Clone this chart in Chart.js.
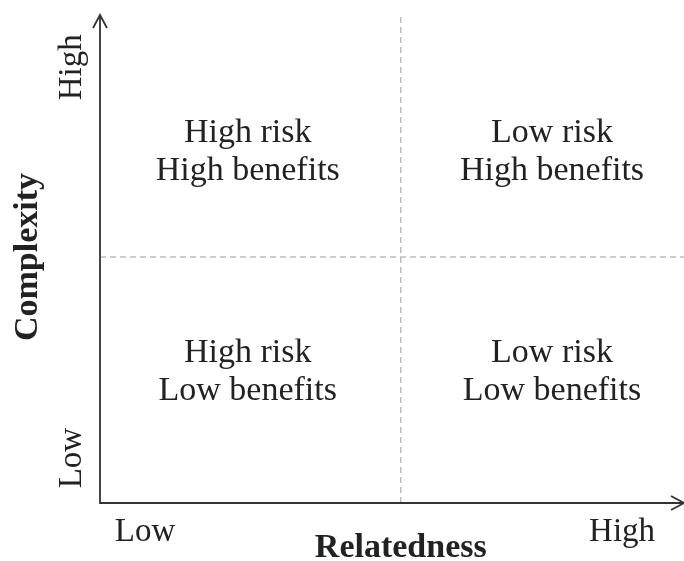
<!DOCTYPE html>
<html>
<head>
<meta charset="utf-8">
<script src="https://cdn.jsdelivr.net/npm/chart.js@4/dist/chart.umd.min.js"></script>
<style>
  html, body { margin: 0; padding: 0; background: #fff; overflow: hidden; }
</style>
</head>
<body>
<canvas id="matrix" width="684" height="561"></canvas>
<script>
// axis extent (both axes run 0..100) and where the quadrants split
const axisRange = [0, 100];
const xSplit = 51.5;
const ySplit = 50.4;

// tick words along each axis and where they sit
const xTickLabels = ['Low', 'High'];
const xTickPos = [7.7, 89.4];
const yTickLabels = ['Low', 'High'];
const yTickPos = [9.2, 89.3];

const xTitle = 'Relatedness';
const yTitle = 'Complexity';

// quadrant captions, row by row (top row first)
const quadLines = [
    ['High risk', 'High benefits'],
    ['Low risk', 'High benefits'],
    ['High risk', 'Low benefits'],
    ['Low risk', 'Low benefits']
];
const quadX = [25.3, 77.4, 25.3, 77.4];
const quadY = [72.0, 72.0, 26.8, 26.8];

const serif = "'Liberation Serif', 'Times New Roman', serif";
const ink = '#222';

let quadrantText = {
    id: 'quadrantText',
    afterDatasetsDraw(chart){
        //draws arrows, tick words, titles and quadrant captions
        let ctx = chart.ctx;
        let xs = chart.scales.x, ys = chart.scales.y;
        let x0 = xs.getPixelForValue(axisRange[0]);
        let y0 = ys.getPixelForValue(axisRange[0]);
        let yTop = ys.getPixelForValue(axisRange[1]);
        let xEnd = xs.getPixelForValue(axisRange[1]);
        ctx.save();

        // arrow heads
        ctx.strokeStyle = '#333';
        ctx.lineWidth = 1.8;
        ctx.beginPath();
        ctx.moveTo(x0 - 7, yTop + 13);
        ctx.lineTo(x0, yTop);
        ctx.lineTo(x0 + 7, yTop + 13);
        ctx.moveTo(xEnd - 13, y0 - 7);
        ctx.lineTo(xEnd, y0);
        ctx.lineTo(xEnd - 13, y0 + 7);
        ctx.stroke();

        ctx.fillStyle = ink;
        ctx.textAlign = 'center';
        ctx.textBaseline = 'middle';

        // quadrant captions
        ctx.font = `34px ${serif}`;
        quadLines.forEach((lines, i) => {
            let cx = xs.getPixelForValue(quadX[i]);
            let cy = ys.getPixelForValue(quadY[i]);
            lines.forEach((txt, j) => {
                ctx.fillText(txt, cx, cy + (j - (lines.length - 1) / 2) * 38);
            });
        });

        // x tick words
        ctx.font = `33px ${serif}`;
        xTickLabels.forEach((txt, i) => {
            ctx.fillText(txt, xs.getPixelForValue(xTickPos[i]), y0 + 29);
        });
        // y tick words (rotated)
        yTickLabels.forEach((txt, i) => {
            ctx.save();
            ctx.translate(x0 - 28, ys.getPixelForValue(yTickPos[i]));
            ctx.rotate(-Math.PI / 2);
            ctx.fillText(txt, 0, 0);
            ctx.restore();
        });

        // titles
        ctx.font = `bold 34px ${serif}`;
        ctx.fillText(xTitle, xs.getPixelForValue(xSplit), y0 + 45);
        ctx.save();
        ctx.translate(x0 - 72, ys.getPixelForValue(ySplit));
        ctx.rotate(-Math.PI / 2);
        ctx.fillText(yTitle, 0, 0);
        ctx.restore();

        ctx.restore();
    }
};

new Chart('matrix', {
    type: 'scatter',
    data: {
        datasets: [
            {
                // the two axes
                data: [{x: axisRange[0], y: axisRange[1]}, {x: axisRange[0], y: axisRange[0]}, {x: axisRange[1], y: axisRange[0]}],
                showLine: true,
                borderColor: '#333',
                borderWidth: 1.8,
                pointRadius: 0,
                clip: false
            },
            {
                // vertical divider
                data: [{x: xSplit, y: axisRange[0]}, {x: xSplit, y: axisRange[1]}],
                showLine: true,
                borderColor: '#bdbdbd',
                borderWidth: 1.5,
                borderDash: [6, 4],
                pointRadius: 0,
                clip: false
            },
            {
                // horizontal divider
                data: [{x: axisRange[0], y: ySplit}, {x: axisRange[1], y: ySplit}],
                showLine: true,
                borderColor: '#bdbdbd',
                borderWidth: 1.5,
                borderDash: [6, 4],
                pointRadius: 0,
                clip: false
            }
        ]
    },
    options: {
        responsive: false,
        animation: false,
        layout: { padding: { left: 100, top: 15, right: 0, bottom: 58 } },
        plugins: { legend: { display: false }, tooltip: { enabled: false } },
        scales: {
            x: { type: 'linear', min: axisRange[0], max: axisRange[1], display: false },
            y: { type: 'linear', min: axisRange[0], max: axisRange[1], display: false }
        }
    },
    plugins: [quadrantText]
});
</script>
</body>
</html>
